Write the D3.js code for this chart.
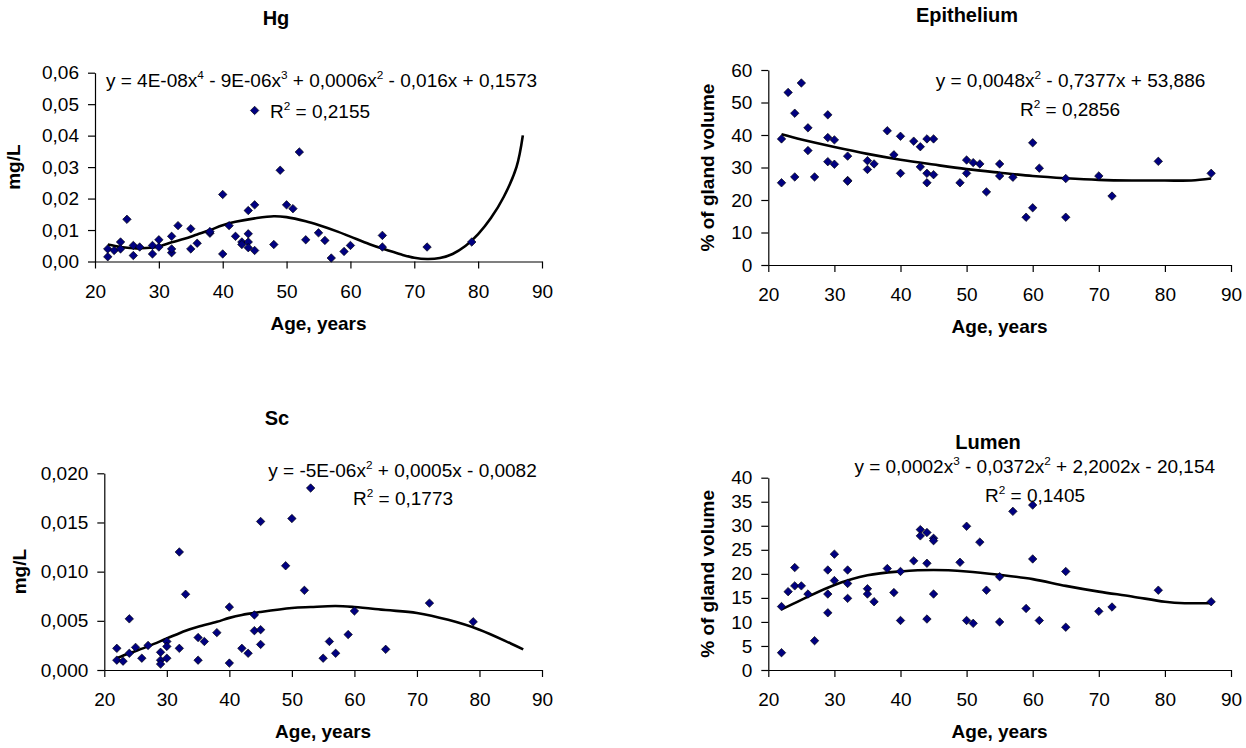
<!DOCTYPE html>
<html><head><meta charset="utf-8">
<script src="https://cdn.jsdelivr.net/npm/d3@7"></script>
<style>
body{margin:0;background:#fff}
svg{display:block}
text{font-family:"Liberation Sans",Arial,sans-serif;fill:#000}
</style>
</head><body>
<svg id="chart" width="1246" height="748"></svg>
<script>
// ---------- DATA ----------
const xTicks = [20, 30, 40, 50, 60, 70, 80, 90];

// Hg (mg/L)
const hgAge = [22,22,23,24,24,25,26,26,27,29,29,30,30,32,32,32,33,35,35,36,38,38,40,40,41,42,43,43,44,44,44,44,45,45,45,48,49,50,51,52,53,55,56,57,59,60,65,65,72,79];
const hgVal = [0.0015,0.004,0.0035,0.0062,0.004,0.0134,0.0019,0.0051,0.0046,0.0024,0.0051,0.0069,0.0046,0.008,0.0028,0.004,0.0114,0.0104,0.004,0.0058,0.009,0.0095,0.0213,0.0024,0.0114,0.008,0.0062,0.0054,0.0162,0.0088,0.0062,0.0044,0.048,0.018,0.0035,0.0054,0.029,0.018,0.0168,0.0348,0.0069,0.0091,0.0067,0.0011,0.0032,0.0051,0.0083,0.0046,0.0046,0.0062];
const hgTrendAge = [22,24,26,28,30,32,34,36,38,40,42,45,48,50,53,55,58,60,63,65,68,70,72,74,76,78,80,82,84,86,87];
const hgTrendVal = [0.0054,0.0046,0.0042,0.0043,0.0048,0.0061,0.0072,0.0086,0.0100,0.0115,0.0126,0.0137,0.0144,0.0141,0.0128,0.0116,0.0095,0.0079,0.0055,0.0041,0.0022,0.0012,0.0008,0.0011,0.0024,0.0049,0.0087,0.0138,0.0205,0.0300,0.0401];
const hgTicks = [0, 0.01, 0.02, 0.03, 0.04, 0.05, 0.06];
const hgEq = "y = 4E-08x^4 - 9E-06x^3 + 0,0006x^2 - 0,016x + 0,1573";
const hgR2 = "R^2 = 0,2155";

// Epithelium (% of gland volume)
const epiAge = [22,22,23,24,24,25,26,26,27,29,29,29,30,30,32,32,32,35,35,36,38,39,40,40,42,43,43,44,44,44,45,45,49,50,50,51,52,53,55,55,57,59,60,60,61,65,65,70,72,79,87];
const epiVal = [25.3,38.8,53.1,46.7,27.1,56,42.2,35.2,27.1,46.2,39.2,31.8,38.5,31,33.5,26,25.8,32.1,29.4,31.1,41.3,33.9,39.6,28.2,38.1,36.4,30.2,38.8,28.2,25.3,38.8,27.8,25.3,32.3,28.2,31.5,31.1,22.5,31.1,27.4,27,14.7,37.6,17.6,29.8,26.6,14.7,27.4,21.2,31.9,28.2];
const epiTrendAge = [22,25,30,35,40,45,50,55,60,65,70,75,80,84,87];
const epiTrendVal = [40.2,38.6,36.3,34.2,32.4,30.9,29.5,28.4,27.4,26.7,26.2,26.0,26.0,26.0,26.6];
const epiTicks = [0, 10, 20, 30, 40, 50, 60];
const epiEq = "y = 0,0048x^2 - 0,7377x + 53,886";
const epiR2 = "R^2 = 0,2856";

// Sc (mg/L)
const scAge = [22,22,23,24,24,25,26,27,29,29,29,30,30,30,32,32,33,35,35,36,38,40,40,42,43,44,44,45,45,45,49,50,52,53,55,56,57,59,60,65,72,79];
const scVal = [0.0022,0.001,0.0009,0.0052,0.0017,0.0023,0.0012,0.0025,0.0018,0.001,0.0006,0.0029,0.0024,0.0012,0.012,0.0022,0.0077,0.0033,0.001,0.0029,0.0038,0.0064,0.0007,0.0022,0.0017,0.0056,0.004,0.0151,0.0041,0.0026,0.0106,0.0154,0.0081,0.0185,0.0012,0.0029,0.0017,0.0036,0.006,0.0021,0.0068,0.0049];
const scTrendAge = [22,24,27,30,33,35,38,40,42,45,50,53,57,60,65,70,75,80,85,87];
const scTrendVal = [0.0012,0.0017,0.0024,0.0032,0.0040,0.0044,0.0049,0.0053,0.0056,0.0059,0.0063,0.0064,0.0065,0.0064,0.0061,0.0058,0.0051,0.0041,0.0027,0.0021];
const scTicks = [0, 0.005, 0.01, 0.015, 0.02];
const scEq = "y = -5E-06x^2 + 0,0005x - 0,0082";
const scR2 = "R^2 = 0,1773";

// Lumen (% of gland volume)
const lumAge = [22,22,23,24,24,25,26,27,29,29,29,30,30,32,32,32,35,35,36,38,39,40,40,42,43,43,44,44,44,45,45,45,49,50,50,51,52,53,55,55,57,59,60,60,61,65,65,70,72,79,87];
const lumVal = [13.2,3.6,16.3,21.3,17.5,17.5,15.8,6.1,20.8,15.8,11.9,24.1,18.6,20.8,18,14.9,16.9,15.8,14.2,21.1,16.1,20.5,10.3,22.7,29.2,27.9,28.6,22.2,10.6,27.4,26.9,15.8,22.4,29.9,10.3,9.7,26.6,16.6,19.4,10,33,12.8,34.3,23.1,10.3,20.5,8.9,12.2,13.1,16.6,14.2];
const lumTrendAge = [22,25,30,35,40,45,50,55,60,65,70,75,80,83,87];
const lumTrendVal = [12.6,14.6,17.7,19.7,20.5,20.8,20.5,19.8,18.9,17.5,16.3,15.3,14.2,13.9,13.9];
const lumTicks = [0, 5, 10, 15, 20, 25, 30, 35, 40];
const lumEq = "y = 0,0002x^3 - 0,0372x^2 + 2,2002x - 20,154";
const lumR2 = "R^2 = 0,1405";

// ---------- DRAW ----------
const loc = d3.formatLocale({decimal: ",", thousands: ".", grouping: [3], currency: ["", ""]});
const svg = d3.select("#chart");

const panels = [
  {title:"Hg", age:hgAge, val:hgVal, tA:hgTrendAge, tV:hgTrendVal, ticks:hgTicks, fmt:".2f", eq:hgEq, r2:hgR2,
   ylab:"mg/L", L:95, R:542, B:261.5, T:72.7, titleX:276, titleY:25, eqX:321.5, eqY:87, r2X:320, r2Y:118, ylabX:20},
  {title:"Epithelium", age:epiAge, val:epiVal, tA:epiTrendAge, tV:epiTrendVal, ticks:epiTicks, fmt:"d", eq:epiEq, r2:epiR2,
   ylab:"% of gland volume", L:768.3, R:1231, B:265, T:70, titleX:967, titleY:22, eqX:1070.5, eqY:87, r2X:1070, r2Y:116, ylabX:714},
  {title:"Sc", age:scAge, val:scVal, tA:scTrendAge, tV:scTrendVal, ticks:scTicks, fmt:".3f", eq:scEq, r2:scR2,
   ylab:"mg/L", L:104.3, R:542, B:670, T:473.3, titleX:277, titleY:425, eqX:402.5, eqY:477, r2X:403, r2Y:505, ylabX:26},
  {title:"Lumen", age:lumAge, val:lumVal, tA:lumTrendAge, tV:lumTrendVal, ticks:lumTicks, fmt:"d", eq:lumEq, r2:lumR2,
   ylab:"% of gland volume", L:768.3, R:1231, B:670, T:477.7, titleX:988, titleY:449, eqX:1034.7, eqY:473, r2X:1035, r2Y:502, ylabX:714}
];

function richText(sel, str, size) {
  const parts = str.split(/\^(\d)/);
  const supSize = size * 0.62, up = size * 0.42;
  let raised = false;
  parts.forEach((p, i) => {
    if (i % 2 === 0) {
      if (p) { sel.append("tspan").attr("font-size", size).attr("dy", raised ? up : 0).text(p); raised = false; }
    } else {
      sel.append("tspan").attr("font-size", supSize).attr("dy", -up).text(p); raised = true;
    }
  });
}

const symbol = d3.symbol().type(d3.symbolSquare).size(36);

panels.forEach(p => {
  const g = svg.append("g");
  const x = d3.scaleLinear().domain([20, 90]).range([p.L, p.R]);
  const y = d3.scaleLinear().domain([p.ticks[0], p.ticks[p.ticks.length - 1]]).range([p.B, p.T]);

  const ya = g.append("g").attr("transform", `translate(${p.L},0)`)
    .call(d3.axisLeft(y).tickValues(p.ticks).tickSize(7).tickSizeOuter(0).tickPadding(9)
      .tickFormat(loc.format(p.fmt)));
  const xa = g.append("g").attr("transform", `translate(0,${p.B})`)
    .call(d3.axisBottom(x).tickValues(xTicks).tickSize(7).tickSizeOuter(0).tickPadding(16));
  [ya, xa].forEach(a => {
    a.selectAll("path,line").attr("stroke", "#000").attr("stroke-width", 1.2);
    a.selectAll("text").attr("font-size", 19).attr("font-family", '"Liberation Sans",Arial,sans-serif').attr("fill", "#000");
  });

  const pts = p.tA.map((a, i) => [a, p.tV[i]]);
  g.append("path").datum(pts)
    .attr("d", d3.line().x(d => x(d[0])).y(d => y(d[1])).curve(d3.curveCatmullRom.alpha(0.5)))
    .attr("fill", "none").attr("stroke", "#000").attr("stroke-width", 2.6);

  g.selectAll("path.pt").data(p.age.map((a, i) => [a, p.val[i]])).join("path")
    .attr("class", "pt")
    .attr("d", symbol)
    .attr("transform", d => `translate(${x(d[0])},${y(d[1])}) rotate(45)`)
    .attr("fill", "#000080").attr("stroke", "#000").attr("stroke-width", 0.6);

  g.append("text").attr("x", p.titleX).attr("y", p.titleY).attr("text-anchor", "middle")
    .attr("font-size", 20).attr("font-weight", "bold").text(p.title);

  const eq = g.append("text").attr("x", p.eqX).attr("y", p.eqY).attr("text-anchor", "middle");
  richText(eq, p.eq, 19);
  const r2 = g.append("text").attr("x", p.r2X).attr("y", p.r2Y).attr("text-anchor", "middle");
  richText(r2, p.r2, 19);

  g.append("text").attr("x", (p.L + p.R) / 2).attr("y", p.B + 68).attr("text-anchor", "middle")
    .attr("font-size", 19).attr("font-weight", "bold").text("Age, years");
  g.append("text").attr("transform", `translate(${p.ylabX},${(p.T + p.B) / 2}) rotate(-90)`)
    .attr("text-anchor", "middle").attr("font-size", 19).attr("font-weight", "bold").text(p.ylab);
});
</script>
</body></html>
